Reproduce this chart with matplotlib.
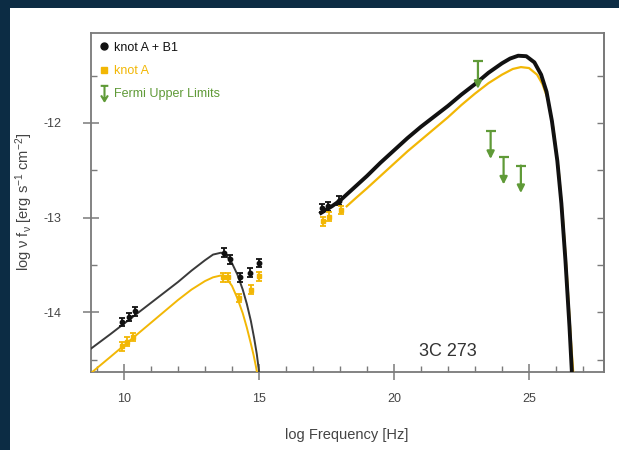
import matplotlib
matplotlib.use("Agg")
import matplotlib.pyplot as plt
from matplotlib.patches import Rectangle
from matplotlib.lines import Line2D
from matplotlib.path import Path
import numpy as np

plt.rcParams["font.family"] = ["Liberation Sans", "DejaVu Sans"]
plt.rcParams["mathtext.fontset"] = "custom"
plt.rcParams["mathtext.rm"] = "Liberation Sans"
plt.rcParams["mathtext.it"] = "Liberation Sans:italic"
plt.rcParams["mathtext.default"] = "regular"
plt.rcParams["axes.unicode_minus"] = False

# ---- model curves (log nu, log nu F_nu) ----
sync_x_ab = [8.70, 9.5, 10.0, 10.5, 11.0, 11.5, 12.0, 12.5, 13.0, 13.3, 13.6, 13.8,
             14.0, 14.2, 14.4, 14.55, 14.7, 14.82, 14.92, 15.0, 15.04]
sync_y_ab = [-14.40, -14.23, -14.12, -14.01, -13.90, -13.79, -13.68, -13.56, -13.45,
             -13.39, -13.37, -13.40, -13.48, -13.60, -13.76, -13.91, -14.09, -14.27,
             -14.44, -14.62, -14.75]
sync_x_a = [8.70, 9.5, 10.0, 10.5, 11.0, 11.5, 12.0, 12.5, 13.0, 13.3, 13.6, 13.8,
            14.0, 14.2, 14.4, 14.55, 14.7, 14.8, 14.88, 14.94, 14.99]
sync_y_a = [-14.66, -14.47, -14.35, -14.23, -14.11, -13.99, -13.87, -13.76, -13.67,
            -13.63, -13.61, -13.64, -13.72, -13.85, -14.01, -14.16, -14.33, -14.45,
            -14.56, -14.65, -14.75]

ic_x_ab = [17.3, 17.7, 18.0, 18.5, 19.0, 19.5, 20.0, 20.5, 21.0, 21.5, 22.0, 22.5,
           23.0, 23.5, 24.0, 24.3, 24.6, 24.9, 25.2, 25.45, 25.65, 25.85, 26.05,
           26.2, 26.35, 26.5, 26.62]
ic_y_ab = [-12.95, -12.88, -12.82, -12.69, -12.56, -12.42, -12.29, -12.16, -12.04,
           -11.93, -11.82, -11.70, -11.59, -11.47, -11.37, -11.32, -11.29, -11.295,
           -11.36, -11.49, -11.67, -11.98, -12.40, -12.85, -13.45, -14.15, -14.80]
ic_x_a = [18.25, 18.6, 19.0, 19.5, 20.0, 20.5, 21.0, 21.5, 22.0, 22.5, 23.0, 23.5,
          24.0, 24.4, 24.7, 25.0, 25.3, 25.5, 25.7, 25.9, 26.1, 26.25, 26.4, 26.55,
          26.68]
ic_y_a = [-12.88, -12.79, -12.69, -12.56, -12.43, -12.30, -12.18, -12.06, -11.94,
          -11.81, -11.69, -11.58, -11.49, -11.43, -11.41, -11.42, -11.49, -11.59,
          -11.75, -12.05, -12.50, -12.98, -13.58, -14.28, -14.80]

# ---- observed fluxes ----
obs_x_ab = [9.93, 10.17, 10.40, 13.70, 13.92, 14.29, 14.67, 15.02, 17.33, 17.57, 17.98]
obs_y_ab = [-14.10, -14.05, -13.99, -13.37, -13.44, -13.63, -13.58, -13.48,
            -12.90, -12.88, -12.82]
obs_x_a = [9.92, 10.12, 10.32, 13.68, 13.86, 14.27, 14.69, 15.01, 17.36, 17.58, 18.03]
obs_y_a = [-14.36, -14.31, -14.26, -13.63, -13.63, -13.85, -13.76, -13.62,
           -13.04, -12.99, -12.92]
obs_err = 0.045

# ---- Fermi-LAT upper limits ----
fermi_x = [23.11, 23.58, 24.06, 24.70]
fermi_ul = [-11.35, -12.09, -12.36, -12.45]
arrow_len = 0.29

black = "#111111"
sync_gray = "#3a3a3a"
gold = "#f2b705"
green = "#5f9a37"
frame = "#7a7a7a"
txt = "#444444"

fig = plt.figure(figsize=(6.19, 4.5), dpi=100)
fig.patch.set_facecolor("#0c2c44")
fig.add_artist(Rectangle((10 / 619, 0), 1 - 10 / 619, 1 - 8 / 450,
                         transform=fig.transFigure, facecolor="white",
                         edgecolor="none", zorder=0))

ax = fig.add_axes([91 / 619, 1 - 372 / 450, (603.5 - 91) / 619, (372 - 33) / 450])
ax.set_facecolor("white")
ax.set_xlim(8.78, 27.76)
ax.set_ylim(-14.63, -11.05)

ax.plot(sync_x_ab, sync_y_ab, color=sync_gray, lw=1.4, zorder=3)
ax.plot(sync_x_a, sync_y_a, color=gold, lw=1.4, zorder=3)
ax.plot(ic_x_a, ic_y_a, color=gold, lw=1.6, zorder=3)
ax.plot(ic_x_ab, ic_y_ab, color=black, lw=2.8, zorder=4)

ax.errorbar(obs_x_ab, obs_y_ab, yerr=obs_err, fmt="o", ms=3.2, color=black,
            ecolor=black, elinewidth=1.3, capsize=2, capthick=1.3, zorder=5)
ax.errorbar(obs_x_a, obs_y_a, yerr=obs_err, fmt="s", ms=2.8, color=gold,
            ecolor=gold, elinewidth=1.3, capsize=2, capthick=1.3, zorder=5)

ax.plot(fermi_x, fermi_ul, ls="none", marker="_", ms=7.5, mew=1.6, color=green, zorder=6)
for fx, fy in zip(fermi_x, fermi_ul):
    ax.annotate("", xy=(fx, fy - arrow_len), xytext=(fx, fy),
                arrowprops=dict(arrowstyle="-|>", color=green, lw=1.6,
                                mutation_scale=11, shrinkA=0, shrinkB=0),
                zorder=6)

fig.text(448 / 619, 1 - 351.5 / 450, "3C 273", fontsize=13, color="#333333",
         ha="center", va="center")

# frame and ticks
for s in ax.spines.values():
    s.set_color(frame)
    s.set_linewidth(1.3)

ax.set_xticks([10, 15, 20, 25])
ax.set_xticks(np.arange(9, 28, 1), minor=True)
ax.set_yticks([-14, -13, -12])
ax.set_yticks(np.arange(-14.5, -11.0, 0.5), minor=True)
ax.tick_params(which="major", direction="inout", length=12, width=1.1, color=frame,
               labelsize=9, labelcolor=txt, top=False, right=False)
ax.tick_params(axis="x", which="major", pad=9)
ax.tick_params(axis="y", which="major", pad=15)
ax.tick_params(which="minor", direction="in", length=4, width=1.0, color=frame,
               top=False, right=False)

sec = ax.secondary_yaxis("right")
sec.set_yticks(np.arange(-14.5, -11.0, 0.5))
sec.tick_params(direction="in", length=5, width=1.0, color=frame, labelright=False)
sec.spines["right"].set_color(frame)
sec.spines["right"].set_linewidth(1.3)

fig.text(347 / 619, 1 - 435 / 450, "log Frequency [Hz]", fontsize=10.5, color=txt,
         ha="center", va="center")
fig.text(24 / 619, 1 - 202 / 450,
         r"log $\nu$ f$_{\nu}$ [erg s$^{-1}$ cm$^{-2}$]", fontsize=10.5, color=txt,
         ha="center", va="center", rotation=90)

# legend
arrow_marker = Path([(-0.5, 1.0), (0.5, 1.0), (0.0, 1.0), (0.0, -1.0),
                     (-0.45, -0.25), (0.0, -1.0), (0.45, -0.25)],
                    [Path.MOVETO, Path.LINETO, Path.MOVETO, Path.LINETO,
                     Path.MOVETO, Path.LINETO, Path.LINETO])
handles = [
    Line2D([], [], ls="none", marker="o", ms=5, color=black),
    Line2D([], [], ls="none", marker="s", ms=4, color=gold),
    Line2D([], [], ls="none", marker=arrow_marker, ms=11, mew=1.5,
           color=green, fillstyle="none"),
]
leg = ax.legend(handles, ["knot A + B1", "knot A", "Fermi Upper Limits"],
                loc="upper left", frameon=False, fontsize=9, handlelength=0.6,
                handletextpad=0.5, labelspacing=0.9, borderaxespad=0.4,
                borderpad=0.3)
for t, c in zip(leg.get_texts(), [black, gold, green]):
    t.set_color(c)

fig.savefig("out.png", dpi=100, facecolor=fig.get_facecolor())
